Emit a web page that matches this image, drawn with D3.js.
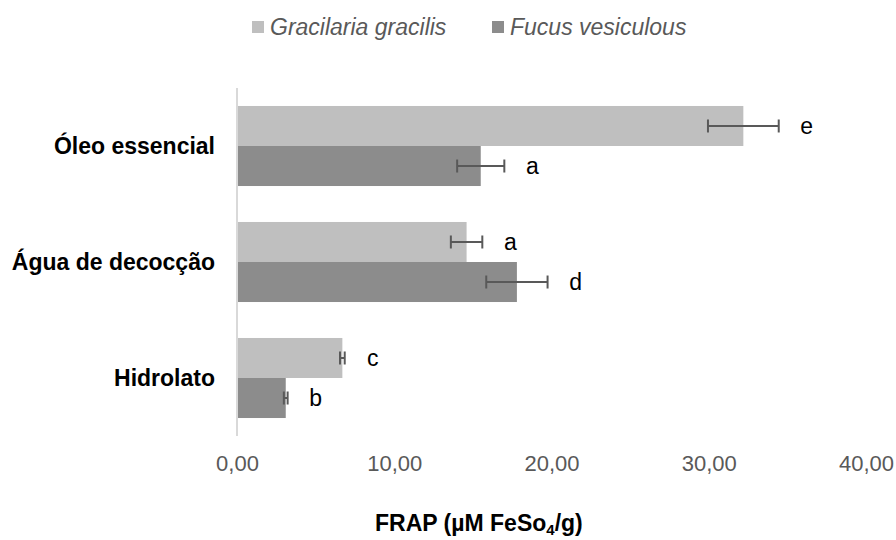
<!DOCTYPE html>
<html>
<head>
<meta charset="utf-8">
<script src="https://cdn.jsdelivr.net/npm/d3@7"></script>
<style>
  body { margin: 0; background: #fff; }
  text { font-family: "Liberation Sans", Arial, sans-serif; }
</style>
</head>
<body>
<script>
var width = 896;
var height = 540;

// categories top to bottom
var categories = ['Óleo essencial', 'Água de decocção', 'Hidrolato'];
var seriesNames = ['Gracilaria gracilis', 'Fucus vesiculous'];
var gracilaria = [32.2, 14.6, 6.7];
var gracilariaErr = [2.25, 1.0, 0.15];
var gracilariaLetters = ['e', 'a', 'c'];
var fucus = [15.5, 17.8, 3.1];
var fucusErr = [1.5, 1.95, 0.12];
var fucusLetters = ['a', 'd', 'b'];
var xTicks = [0, 10, 20, 30, 40];

var colors = ['#bfbfbf', '#8c8c8c'];

var svg = d3.select('body').append('svg')
  .attr('width', width).attr('height', height);

var x = d3.scaleLinear().domain([0, 40]).range([237, 866]);
var y = d3.scaleBand().domain(categories).range([88, 436])
  .paddingInner(0.31).paddingOuter(0.155);
var sub = d3.scaleBand().domain([0, 1]).range([0, y.bandwidth()]);

var rows = categories.map(function(c, i) {
  return [
    {cat: c, s: 0, v: gracilaria[i], e: gracilariaErr[i], l: gracilariaLetters[i]},
    {cat: c, s: 1, v: fucus[i], e: fucusErr[i], l: fucusLetters[i]}
  ];
});
var flat = d3.merge(rows);

// bars
svg.append('g').selectAll('rect').data(flat).enter().append('rect')
  .attr('x', x(0))
  .attr('y', function(d) { return y(d.cat) + sub(d.s); })
  .attr('width', function(d) { return x(d.v) - x(0); })
  .attr('height', sub.bandwidth())
  .attr('fill', function(d) { return colors[d.s]; });

// vertical axis line
svg.append('line')
  .attr('x1', x(0)).attr('x2', x(0))
  .attr('y1', 88).attr('y2', 436)
  .attr('stroke', '#d9d9d9').attr('stroke-width', 2);

// error bars
var eb = svg.append('g').attr('stroke', '#595959').attr('stroke-width', 2);
flat.forEach(function(d) {
  var cy = y(d.cat) + sub(d.s) + sub.bandwidth() / 2;
  var x1 = x(d.v - d.e), x2 = x(d.v + d.e);
  eb.append('line').attr('x1', x1).attr('x2', x2).attr('y1', cy).attr('y2', cy);
  eb.append('line').attr('x1', x1).attr('x2', x1).attr('y1', cy - 6.5).attr('y2', cy + 6.5);
  eb.append('line').attr('x1', x2).attr('x2', x2).attr('y1', cy - 6.5).attr('y2', cy + 6.5);
});

// significance letters
svg.append('g').selectAll('text').data(flat).enter().append('text')
  .attr('x', function(d) { return x(d.v + d.e) + 28; })
  .attr('y', function(d) { return y(d.cat) + sub(d.s) + sub.bandwidth() / 2; })
  .attr('dy', '0.35em')
  .attr('text-anchor', 'middle')
  .attr('font-size', 23)
  .attr('fill', '#000')
  .text(function(d) { return d.l; });

// category labels
svg.append('g').selectAll('text').data(categories).enter().append('text')
  .attr('x', 215)
  .attr('y', function(d) { return y(d) + y.bandwidth() / 2; })
  .attr('dy', '0.35em')
  .attr('text-anchor', 'end')
  .attr('font-size', 23)
  .attr('font-weight', 'bold')
  .attr('fill', '#000')
  .text(function(d) { return d; });

// x tick labels
var xAxis = d3.axisBottom(x).tickValues(xTicks).tickSize(0).tickPadding(0)
  .tickFormat(function(d) { return d3.format('.2f')(d).replace('.', ','); });
var gx = svg.append('g').attr('transform', 'translate(0,' + 455 + ')').call(xAxis);
gx.select('.domain').remove();
gx.selectAll('text')
  .attr('font-family', '"Liberation Sans", Arial, sans-serif')
  .attr('font-size', 22).attr('fill', '#595959');

// axis title
var title = svg.append('text')
  .attr('x', 375).attr('y', 531)
  .attr('text-anchor', 'start')
  .attr('font-size', 23).attr('font-weight', 'bold').attr('fill', '#000');
title.append('tspan').text('FRAP (µM FeSo');
title.append('tspan').attr('font-size', 15).attr('dy', 4).text('4');
title.append('tspan').attr('dy', -4).text('/g)');

// legend
var legendX = [258, 498];
var lg = svg.append('g').selectAll('g').data(seriesNames).enter().append('g')
  .attr('transform', function(d, i) { return 'translate(' + legendX[i] + ',27)'; });
lg.append('rect').attr('x', -6).attr('y', -6).attr('width', 12).attr('height', 12)
  .attr('fill', function(d, i) { return colors[i]; });
lg.append('text').attr('x', 12).attr('dy', '0.35em')
  .attr('font-size', 23).attr('font-style', 'italic').attr('fill', '#595959')
  .text(function(d) { return d; });
</script>
</body>
</html>
